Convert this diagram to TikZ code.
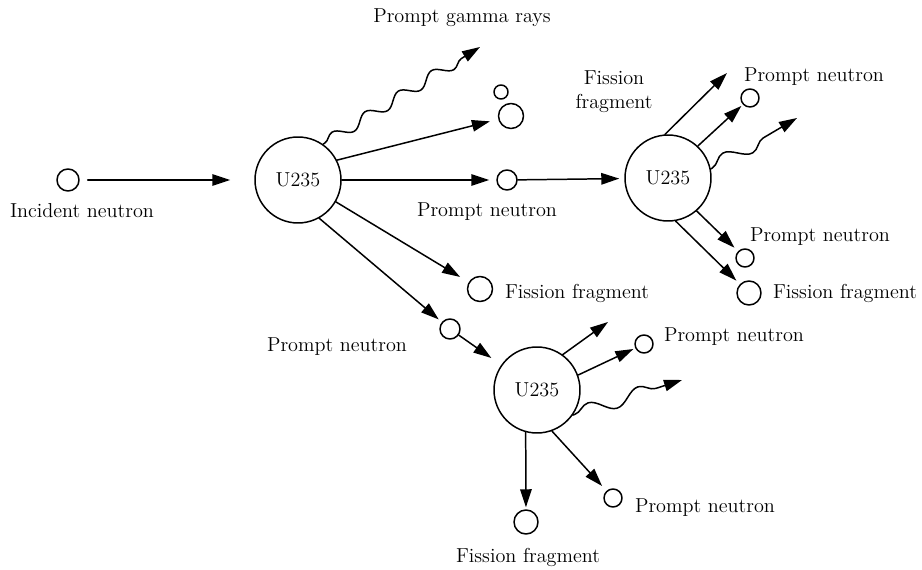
\documentclass[tikz,border=0pt]{standalone}
\usetikzlibrary{arrows.meta,decorations.pathmorphing}
\begin{document}
\begin{tikzpicture}[x=0.02cm,y=-0.02cm,line join=round,line cap=round,line width=0.85pt,
	>={Triangle[length=3.6mm,width=2.3mm]},font=\fontsize{11.5}{13.5}\selectfont,
	hat/.style={draw,circle,inner sep=0pt,minimum size=#1},
	nhan/.style={hat=1.72cm},
	song/.style={->,decorate,decoration={snake,amplitude=#1,segment length=0.78cm,pre length=1pt,post length=4mm}}]
	\useasboundingbox (0,0) rectangle (922,570);
	% cac hat nhan U235
	\node[nhan] (u1) at (298,180) {U235};
	\node[nhan] (u2) at (668,178) {U235};
	\node[nhan] (u3) at (537,390) {U235};
	% neutron va manh phan hach
	\node[hat=0.44cm] (inc) at (68,180) {};
	\node[hat=0.4cm] (n1) at (507,180) {};
	\node[hat=0.28cm] (n0) at (501,92) {};
	\node[hat=0.5cm] (f1) at (511,116) {};
	\node[hat=0.5cm] (f2) at (480,289) {};
	\node[hat=0.4cm] (n2) at (450,329) {};
	\node[hat=0.36cm] (n3) at (750,98) {};
	\node[hat=0.36cm] (n4) at (745,258) {};
	\node[hat=0.48cm] (f3) at (749,293) {};
	\node[hat=0.36cm] (n5) at (644,344) {};
	\node[hat=0.36cm] (n6) at (613,498) {};
	\node[hat=0.48cm] (f4) at (526,522) {};
	% dau mut tu do
	\path (480,47) coordinate (g1)
	(727,73) coordinate (e2)
	(797,118) coordinate (g2)
	(608,322) coordinate (e3)
	(682,380) coordinate (g3);
	% nhan 1
	\draw[->,shorten <=0.16cm,shorten >=0.48cm] (inc) -- (u1);
	\draw[->,shorten >=0.17cm] (u1.27) -- (f1);
	\draw[->,shorten >=0.14cm] (u1) -- (n1);
	\draw[->,shorten >=0.1cm] (n1) -- (u2);
	\draw[song=0.11cm] (u1.55) -- (g1);
	\draw[->,shorten >=0.2cm] (u1.-30) -- (f2);
	\draw[->,shorten >=0.08cm] (u1.-61) -- (n2);
	\draw[->,shorten >=0.24cm] (n2) -- (u3);
	% nhan 2
	\draw[->] (u2.94) -- (e2);
	\draw[->,shorten >=0.04cm] (u2.47) -- (n3);
	\draw[song=0.15cm,decoration={segment length=1.05cm}] (u2.12) -- (g2);
	\draw[->,shorten >=0.1cm] (u2.-49) -- (n4);
	\draw[->,shorten >=0.1cm] (u2.-80) -- (f3);
	% nhan 3
	\draw[->] (u3.54) -- (e3);
	\draw[->,shorten >=0.04cm] (u3.20) -- (n5);
	\draw[song=0.14cm,decoration={segment length=1.05cm}] (u3.-35) -- (g3);
	\draw[->,shorten >=0.04cm] (u3.-105) -- (f4);
	\draw[->,shorten >=0.13cm] (u3.-70) -- (n6);
	% nhan chu
	\node (tInc) at (82,211) {Incident neutron};
	\node (tGam) at (462,18) {Prompt gamma rays};
	\node (tN1) at (487,212) {Prompt neutron};
	\node (tF1) at (577,293) {Fission fragment};
	\node (tN2) at (337,347) {Prompt neutron};
	\node[align=center] (tF2) at (614,92) {Fission\\fragment};
	\node (tN3) at (814,77) {Prompt neutron};
	\node (tN4) at (820,237) {Prompt neutron};
	\node (tF3) at (845,293) {Fission fragment};
	\node (tN5) at (734,337) {Prompt neutron};
	\node (tN6) at (705,508) {Prompt neutron};
	\node (tF4) at (528,557) {Fission fragment};
\end{tikzpicture}
\end{document}
